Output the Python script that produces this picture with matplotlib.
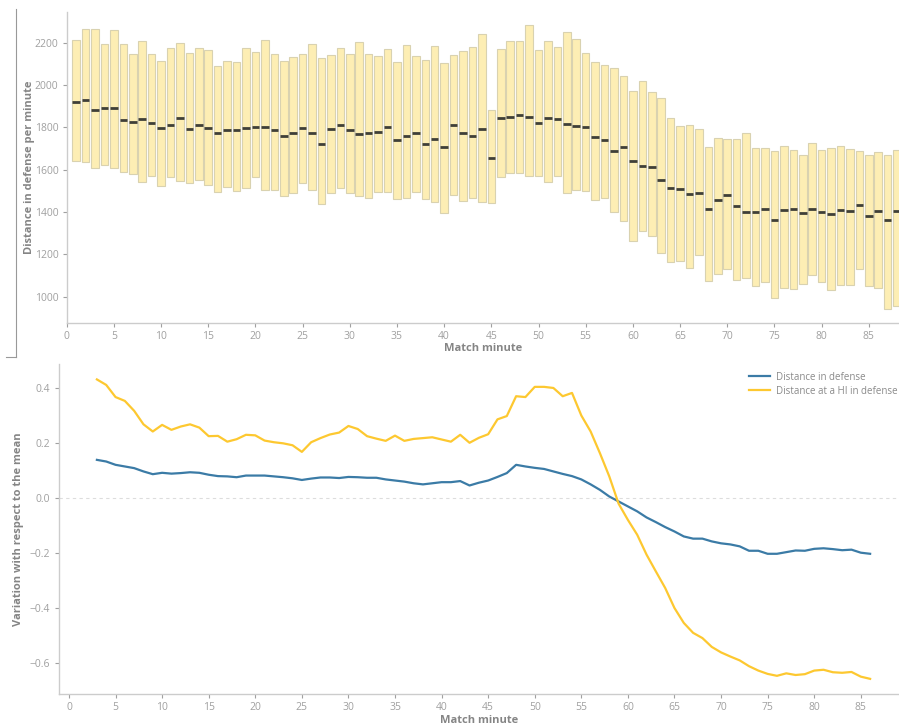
import matplotlib
matplotlib.use("Agg")
import matplotlib.pyplot as plt
from matplotlib.lines import Line2D
import numpy as np

plt.rcParams['font.family'] = ['Open Sans', 'DejaVu Sans']

# ---------------- data: top panel (per match minute) ----------------
minutes = list(range(1, 89))
box_top = [2214, 2266, 2263, 2194, 2258, 2195, 2146, 2208, 2145, 2112,
           2176, 2198, 2151, 2173, 2167, 2088, 2112, 2108, 2176, 2154,
           2214, 2145, 2115, 2131, 2146, 2192, 2127, 2140, 2176, 2148,
           2202, 2146, 2138, 2170, 2110, 2189, 2137, 2116, 2183, 2105,
           2143, 2161, 2178, 2243, 1883, 2168, 2208, 2209, 2282, 2165,
           2206, 2181, 2249, 2217, 2151, 2107, 2096, 2082, 2044, 1970,
           2017, 1966, 1940, 1843, 1806, 1813, 1790, 1705, 1750, 1747,
           1747, 1772, 1701, 1701, 1687, 1711, 1695, 1671, 1725, 1692,
           1703, 1711, 1698, 1690, 1668, 1682, 1667, 1693]
box_bottom = [1640, 1635, 1608, 1624, 1608, 1588, 1581, 1540, 1572, 1523,
              1566, 1548, 1536, 1551, 1529, 1495, 1517, 1501, 1514, 1567,
              1503, 1503, 1474, 1488, 1539, 1504, 1438, 1491, 1515, 1491,
              1474, 1468, 1493, 1493, 1460, 1465, 1496, 1463, 1449, 1397,
              1482, 1450, 1465, 1446, 1441, 1564, 1586, 1583, 1572, 1570,
              1542, 1572, 1491, 1503, 1501, 1457, 1465, 1398, 1359, 1264,
              1308, 1286, 1204, 1163, 1170, 1135, 1196, 1072, 1108, 1129,
              1078, 1088, 1048, 1070, 996, 1042, 1034, 1058, 1100, 1067,
              1031, 1053, 1053, 1129, 1048, 1040, 941, 957]
box_median = [1918, 1927, 1883, 1889, 1889, 1835, 1826, 1839, 1820, 1796,
              1812, 1842, 1791, 1812, 1799, 1772, 1785, 1785, 1796, 1801,
              1801, 1788, 1760, 1774, 1798, 1772, 1719, 1794, 1812, 1787,
              1769, 1771, 1780, 1801, 1741, 1757, 1771, 1723, 1746, 1709,
              1812, 1774, 1760, 1794, 1657, 1845, 1850, 1858, 1847, 1818,
              1842, 1839, 1817, 1806, 1802, 1752, 1738, 1686, 1706, 1641,
              1619, 1611, 1551, 1515, 1507, 1485, 1488, 1416, 1455, 1482,
              1428, 1402, 1402, 1413, 1362, 1409, 1416, 1395, 1416, 1400,
              1389, 1411, 1406, 1433, 1383, 1406, 1363, 1406]

# ---------------- data: bottom panel ----------------
line_minutes = list(range(3, 87))
dist_defense = [0.139, 0.133, 0.121, 0.115, 0.109, 0.097, 0.087, 0.092, 0.089, 0.091,
                0.094, 0.092, 0.085, 0.080, 0.079, 0.076, 0.082, 0.082, 0.082, 0.079,
                0.076, 0.072, 0.066, 0.071, 0.075, 0.075, 0.073, 0.077, 0.076, 0.074,
                0.074, 0.068, 0.064, 0.060, 0.054, 0.050, 0.054, 0.058, 0.058, 0.062,
                0.046, 0.056, 0.064, 0.077, 0.091, 0.121, 0.115, 0.110, 0.106, 0.097,
                0.088, 0.080, 0.068, 0.050, 0.030, 0.006, -0.012, -0.030, -0.048, -0.070,
                -0.087, -0.105, -0.121, -0.139, -0.147, -0.147, -0.157, -0.164, -0.168, -0.175,
                -0.191, -0.191, -0.202, -0.202, -0.196, -0.190, -0.191, -0.184, -0.182, -0.185,
                -0.189, -0.187, -0.198, -0.202]
dist_hi_defense = [0.431, 0.411, 0.367, 0.353, 0.317, 0.268, 0.242, 0.266, 0.248, 0.260,
                   0.268, 0.256, 0.225, 0.226, 0.205, 0.214, 0.230, 0.228, 0.209, 0.203,
                   0.199, 0.192, 0.168, 0.203, 0.218, 0.231, 0.238, 0.262, 0.251, 0.225,
                   0.216, 0.208, 0.227, 0.208, 0.215, 0.218, 0.221, 0.213, 0.205, 0.230,
                   0.201, 0.219, 0.232, 0.286, 0.298, 0.370, 0.367, 0.404, 0.404, 0.400,
                   0.370, 0.382, 0.300, 0.242, 0.163, 0.079, -0.020, -0.079, -0.133, -0.205,
                   -0.266, -0.326, -0.399, -0.453, -0.489, -0.508, -0.540, -0.560, -0.575, -0.589,
                   -0.610, -0.626, -0.638, -0.645, -0.636, -0.642, -0.639, -0.626, -0.623, -0.632,
                   -0.634, -0.631, -0.648, -0.656]
series_labels = ["Distance in defense", "Distance at a HI in defense"]

x_ticks = list(range(0, 90, 5))
top_yticks = [1000, 1200, 1400, 1600, 1800, 2000, 2200]
bot_yticks = [-0.6, -0.4, -0.2, 0.0, 0.2, 0.4]

# ---------------- styling ----------------
spine_c = '#cccccc'
tick_c = '#a0a0a0'
label_c = '#858585'
bar_face = '#fdeeb4'
bar_edge = '#d9d2b0'
med_c = '#3f3f38'
blue = '#3b7ba6'
yellow = '#fdc830'

W, H = 899, 725
fig = plt.figure(figsize=(W / 100, H / 100), dpi=100)

def style(ax):
    for s in ['top', 'right']:
        ax.spines[s].set_visible(False)
    for s in ['left', 'bottom']:
        ax.spines[s].set_color(spine_c)
        ax.spines[s].set_linewidth(1.0)
    ax.tick_params(colors=tick_c, labelsize=7.5, length=3, width=0.8, labelcolor=tick_c, pad=3)

# top panel
ax1 = fig.add_axes([66.7 / W, 1 - 322.7 / H, (W - 66.7) / W, (322.7 - 11.7) / H])
mins = np.array(minutes)
tops = np.array(box_top)
bots = np.array(box_bottom)
ax1.bar(mins, tops - bots, bottom=bots, width=0.8, color=bar_face,
        edgecolor=bar_edge, linewidth=0.8, zorder=2)
ax1.hlines(box_median, mins - 0.4, mins + 0.4, colors=med_c, linewidth=2.0, zorder=3)
ax1.set_xlim(0, 88.2)
ax1.set_ylim(877, 2346)
ax1.set_xticks(x_ticks)
ax1.set_yticks(top_yticks)
style(ax1)
ax1.set_xlabel("Match minute", fontsize=8, fontweight='bold', color=label_c, labelpad=1)
ax1.set_ylabel("Distance in defense per minute", fontsize=8, fontweight='bold',
               color=label_c, labelpad=0)

# bottom panel
ax2 = fig.add_axes([58.7 / W, 1 - 694 / H, (W - 58.7) / W, (694 - 364) / H])
ax2.axhline(0, color='#dddddd', linewidth=0.8, linestyle=(0, (3, 3)), zorder=1)
ax2.plot(line_minutes, dist_defense, color=blue, linewidth=1.6, label=series_labels[0], zorder=3)
ax2.plot(line_minutes, dist_hi_defense, color=yellow, linewidth=1.6, label=series_labels[1], zorder=3)
ax2.set_xlim(-1.1, 89.1)
ax2.set_ylim(-0.711, 0.487)
ax2.set_xticks(x_ticks)
ax2.set_yticks(bot_yticks)
style(ax2)
ax2.set_xlabel("Match minute", fontsize=8, fontweight='bold', color=label_c, labelpad=1)
ax2.set_ylabel("Variation with respect to the mean", fontsize=8, fontweight='bold',
               color=label_c, labelpad=4)
leg = ax2.legend(loc='upper left', bbox_to_anchor=(745 / W, 1 - 368 / H),
                 bbox_transform=fig.transFigure, frameon=False, fontsize=7,
                 handlelength=2.2, handletextpad=0.6, labelspacing=0.3, borderaxespad=0)
for t in leg.get_texts():
    t.set_color('#8a8a8a')

# screenshot frame artefact
fig.add_artist(Line2D([16 / W, 16 / W], [1 - 9 / H, 1 - 357 / H], color='#999999', lw=0.8))
fig.add_artist(Line2D([6 / W, 16 / W], [1 - 357 / H, 1 - 357 / H], color='#999999', lw=0.8))

fig.savefig("out.png", dpi=100)
